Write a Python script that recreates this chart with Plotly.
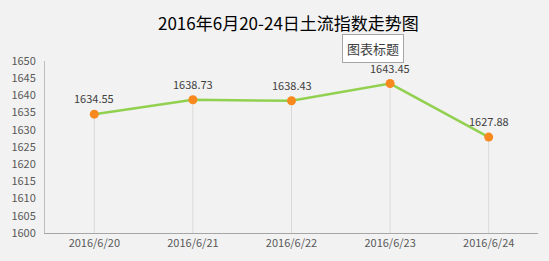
import plotly.graph_objects as go

dates = ["2016/6/20", "2016/6/21", "2016/6/22", "2016/6/23", "2016/6/24"]
values = [1634.55, 1638.73, 1638.43, 1643.45, 1627.88]
y_ticks = list(range(1600, 1651, 5))
title_text = "2016年6月20-24日土流指数走势图"
tooltip_text = "图表标题"
y_min = 1600

FONT = "Noto Sans CJK SC"

fig = go.Figure()
fig.add_trace(go.Scatter(
    x=dates, y=values, mode="lines+markers",
    line=dict(color="#92D050", width=2.5),
    marker=dict(color="#F7891E", size=9),
    error_y=dict(type="data", symmetric=False, array=[0]*len(values),
                 arrayminus=[v - y_min for v in values],
                 color="#D9D9D9", thickness=1, width=0),
    cliponaxis=False,
))

pw = 549 - 43 - 11
ph = 261 - 61 - 27

def px_to_paper(px, py):
    return (px - 43) / pw, (261 - 27 - py) / ph

tx, ty = px_to_paper(287, 22)
bx, by = px_to_paper(372, 48)

annotations = [
    dict(text=title_text, x=tx, y=ty, xref="paper", yref="paper", showarrow=False,
         xanchor="center", yanchor="middle",
         font=dict(family=FONT, size=17, color="#000000")),
    dict(text=tooltip_text, x=bx, y=by, xref="paper", yref="paper", showarrow=False,
         xanchor="center", yanchor="middle",
         font=dict(family=FONT, size=13, color="#404040"),
         bgcolor="#FFFFFF", bordercolor="#A6A6A6", borderwidth=1, borderpad=4),
]
for d, v in zip(dates, values):
    annotations.append(dict(text=f"{v:.2f}", x=d, y=v, xref="x", yref="y",
                            showarrow=False, yshift=16, xanchor="center", yanchor="middle",
                            font=dict(family=FONT, size=11, color="#404040")))

fig.update_layout(
    width=549, height=261,
    paper_bgcolor="#F2F2F2", plot_bgcolor="#F2F2F2",
    margin=dict(l=43, r=11, t=61, b=27),
    showlegend=False,
    font=dict(family=FONT, size=11, color="#595959"),
    xaxis=dict(type="category", range=[-0.5, len(dates) - 0.5], showgrid=False,
               showline=True, linecolor="#A6A6A6", linewidth=1, ticks="",
               tickfont=dict(size=11, color="#595959"), fixedrange=True),
    yaxis=dict(range=[1600, 1650], tickvals=y_ticks, showgrid=False, showline=True,
               linecolor="#BFBFBF", linewidth=1, ticks="", zeroline=False,
               tickfont=dict(size=11, color="#595959"), ticklabelstandoff=6),
    annotations=annotations,
)

fig.write_html("out.html")
